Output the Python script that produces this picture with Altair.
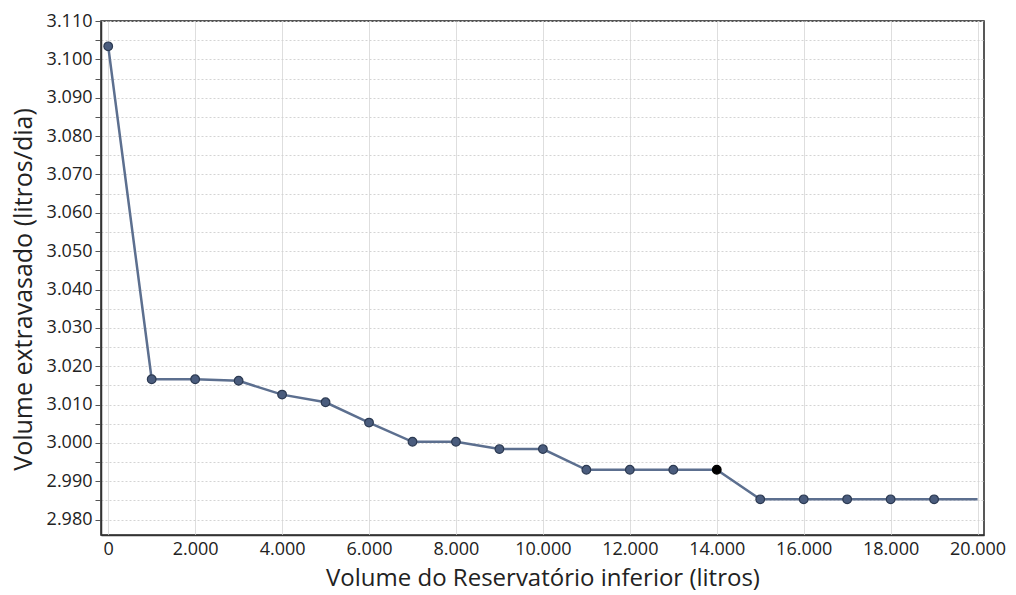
import altair as alt
import pandas as pd

volume_reservatorio = [0, 1000, 2000, 3000, 4000, 5000, 6000, 7000, 8000, 9000, 10000,
                       11000, 12000, 13000, 14000, 15000, 16000, 17000, 18000, 19000, 20000]
volume_extravasado = [3103.4, 3016.6, 3016.6, 3016.2, 3012.6, 3010.6, 3005.3, 3000.3, 3000.3,
                      2998.4, 2998.4, 2993.0, 2993.0, 2993.0, 2993.0, 2985.3, 2985.3, 2985.3,
                      2985.3, 2985.3, 2985.3]
marcador = [True] * 20 + [False]
destaque = [False] * 14 + [True] + [False] * 6

df = pd.DataFrame({
    "x": volume_reservatorio,
    "y": volume_extravasado,
    "m": marcador,
    "d": destaque,
})

x_ticks = list(range(0, 20001, 2000))
y_ticks = list(range(2980, 3111, 5))

fmt_x = "replace(format(datum.value, ',.0f'), ',', '.')"
fmt_y = "datum.value % 10 == 0 ? replace(format(datum.value, ',.0f'), ',', '.') : ''"

xenc = alt.X("x:Q", scale=alt.Scale(domain=[-166, 20148], nice=False, zero=False),
             axis=alt.Axis(values=x_ticks, tickCount=40, labelExpr=fmt_x,
                           title="Volume do Reservatório inferior (litros)",
                           grid=True, gridColor="#dedede", gridWidth=1, ticks=False,
                           labelOverlap=False, labelFlush=False,
                           labelPadding=5, titlePadding=8, titleFontSize=24))
yenc = alt.Y("y:Q", scale=alt.Scale(domain=[2976, 3110], nice=False, zero=False),
             axis=alt.Axis(values=y_ticks, tickCount=60, labelExpr=fmt_y,
                           title="Volume extravasado (litros/dia)",
                           grid=True, gridColor="#d4d4d4", gridDash=[2, 2], gridWidth=1,
                           labelOverlap=False, labelFlush=False,
                           tickSize=6, tickColor="#555", labelPadding=3, titlePadding=10,
                           titleY=268, titleFontSize=25))

base = alt.Chart(df)

line = base.mark_line(color="#5c6f8f", strokeWidth=2.5).encode(x=xenc, y=yenc)

pts = base.transform_filter("datum.m").mark_point(
    filled=True, size=75, opacity=1, strokeWidth=1.2
).encode(
    x="x:Q", y="y:Q",
    color=alt.condition("datum.d", alt.value("#000000"), alt.value("#4a5c7d")),
    stroke=alt.condition("datum.d", alt.value("#000000"), alt.value("#2c3a52")),
)

chart = alt.layer(line, pts).properties(
    width=883, height=514,
    autosize=alt.AutoSizeParams(type="none"),
    padding={"left": 101, "top": 21, "right": 32, "bottom": 60},
).configure_view(
    stroke="#222222", strokeWidth=1.5
).configure_axis(
    labelFont="Open Sans", titleFont="Open Sans", labelFontSize=18,
    labelColor="#222", titleColor="#222", titleFontWeight="normal",
    domainColor="#333", domainWidth=1.5,
)

chart.save("out.html", embed_options={"renderer": "svg", "actions": False})
